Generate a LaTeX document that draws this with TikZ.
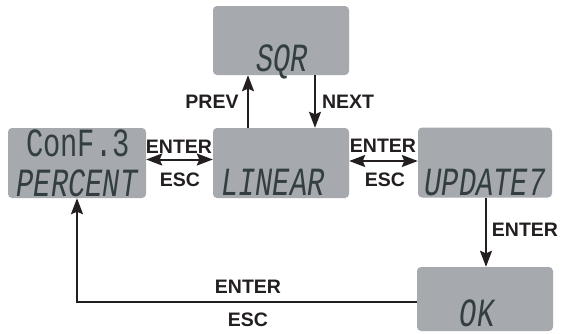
\documentclass[tikz,border=0pt]{standalone}
\usepackage{fontspec}
\setmainfont{Liberation Sans}
\newfontfamily\lcdfont{Liberation Mono}
\usetikzlibrary{arrows.meta}
\definecolor{boxgray}{RGB}{166,169,173}
\definecolor{lcdink}{RGB}{50,62,64}
\definecolor{inkblack}{RGB}{35,31,32}
\tikzset{
  lcdbox/.style={fill=boxgray, rounded corners=4pt, minimum width=136pt, minimum height=70pt, inner sep=0pt},
  lcdtext/.style={text=lcdink, inner sep=0pt, font=\lcdfont\fontsize{40}{40}\selectfont},
  keylabel/.style={text=inkblack, inner sep=0pt, font=\bfseries\fontsize{19.5}{19.5}\selectfont},
  arr/.style={draw=inkblack, line width=2pt, -{Stealth[length=16pt,width=12pt,inset=2.5pt]}},
  darr/.style={draw=inkblack, line width=2pt, {Stealth[length=16pt,width=12pt,inset=2.5pt]}-{Stealth[length=16pt,width=12pt,inset=2.5pt]}},
}
\newcommand{\lcdsq}[1]{\scalebox{0.72}[1]{#1}}
\begin{document}
\begin{tikzpicture}[x=1pt,y=-1pt]
\useasboundingbox (0,0) rectangle (562,333);
\clip (0,0) rectangle (562,333);
% boxes
\node[lcdbox, minimum width=138pt] (conf) at (77,163) {};
\node[lcdbox] (linear) at (281,163) {};
\node[lcdbox, minimum height=69pt] (sqr) at (281,40.5) {};
\node[lcdbox, minimum width=134pt] (update) at (485,162.5) {};
\node[lcdbox, minimum height=64pt] (ok) at (485,299) {};
% lcd texts
\node[lcdtext] (tconf) at (78,143) {\lcdsq{ConF.3}};
\node[lcdtext] (tpercent) at (77,183) {\lcdsq{\itshape PERCENT}};
\node[lcdtext] (tlinear) at (273,182.5) {\lcdsq{\itshape LINEAR}};
\node[lcdtext] (tsqr) at (282,62) {\lcdsq{\itshape SQR}};
\node[lcdtext] (tupdate) at (485,182.5) {\lcdsq{\itshape UPDATE7}};
\node[lcdtext] (tok) at (477,313) {\lcdsq{\itshape OK}};
% coordinates
\coordinate (prevx) at (248,0);
\coordinate (nextx) at (315,0);
\coordinate (enterx) at (486,0);
\coordinate (yl) at (0,159.5);
\coordinate (yr) at (0,161);
\coordinate (yb) at (0,302);
\coordinate (retx) at (77,0);
\coordinate (corner) at (77,302);
% arrows
\draw[arr] (linear.north -| prevx) -- (sqr.south -| prevx);
\draw[arr] (sqr.south -| nextx) -- (linear.north -| nextx);
\draw[darr] (conf.east |- yl) -- (linear.west |- yl);
\draw[darr] (linear.east |- yr) -- (update.west |- yr);
\draw[arr] (update.south -| enterx) -- (ok.north -| enterx);
\draw[arr] (ok.west |- yb) -- (corner) -- (conf.south -| retx);
% labels
\node[keylabel] (lprev) at (212,102) {PREV};
\node[keylabel] (lnext) at (348,102) {NEXT};
\node[keylabel] (lenter1) at (179,147) {ENTER};
\node[keylabel] (lesc1) at (180,180) {ESC};
\node[keylabel] (lenter2) at (383,145.5) {ENTER};
\node[keylabel] (lesc2) at (385,180) {ESC};
\node[keylabel] (lenter3) at (525,230) {ENTER};
\node[keylabel] (lenter4) at (248,287) {ENTER};
\node[keylabel] (lesc4) at (248,320) {ESC};
\end{tikzpicture}
\end{document}
